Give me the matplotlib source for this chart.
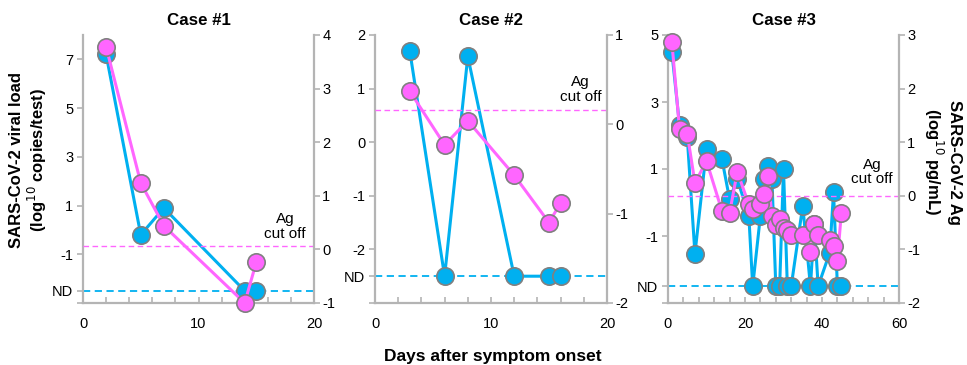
import matplotlib
matplotlib.use('Agg')
import matplotlib.pyplot as plt
from matplotlib.ticker import MultipleLocator, FixedLocator

plt.rcParams['font.family'] = ['Liberation Sans', 'DejaVu Sans']
plt.rcParams['axes.unicode_minus'] = False

ND = -2.5
titles = ['Case #1', 'Case #2', 'Case #3']

days1 = [2, 5, 7, 14, 15]
rna1 = [7.2, -0.2, 0.9, ND, ND]
ag1 = [3.78, 1.24, 0.44, -1.0, -0.24]

days2 = [3, 6, 8, 12, 15, 16]
rna2 = [1.7, ND, 1.6, ND, ND, ND]
ag2 = [0.37, -0.23, 0.04, -0.57, -1.1, -0.88]

days3 = [1, 3, 5, 7, 10, 14, 16, 18, 21, 22, 24, 25, 26, 27, 28, 29, 30, 31, 32,
         35, 37, 38, 39, 42, 43, 44, 45]
rna3 = [4.5, 2.3, 1.95, -1.53, 1.6, 1.3, 0.1, 0.7, -0.4, ND, -0.4, 0.7, 1.1, 0.7,
        ND, ND, 1.0, ND, ND, -0.1, ND, -0.65, ND, -1.5, 0.3, ND, ND]
ag3 = [2.87, 1.24, 1.16, 0.24, 0.65, -0.28, -0.32, 0.45, -0.16, -0.25, -0.15, 0.04,
       0.37, -0.38, -0.55, -0.43, -0.61, -0.64, -0.74, -0.74, -1.05, -0.52, -0.74,
       -0.82, -0.93, -1.22, -0.33]

cutoffs = [0.06, 0.16, 0.0]

left_ticks = [[-3, ND, -1, 1, 3, 5, 7], [-3, ND, -2, -1, 0, 1, 2], [-3, ND, -1, 1, 3, 5]]
left_labels = [['', 'ND', '-1', '1', '3', '5', '7'],
               ['', 'ND', '-2', '-1', '0', '1', '2'],
               ['', 'ND', '-1', '1', '3', '5']]
right_ticks = [[-1, 0, 1, 2, 3, 4], [-2, -1, 0, 1], [-2, -1, 0, 1, 2, 3]]
x_ticks = [[0, 10, 20], [0, 10, 20], [0, 20, 40, 60]]

data = [(days1, rna1, ag1), (days2, rna2, ag2), (days3, rna3, ag3)]
left_lims = [(-3, 8), (-3, 2), (-3, 5)]
right_lims = [(-1, 4), (-2, 1), (-2, 3)]
x_lims = [(0, 20), (0, 20), (0, 60)]
x_minor = [2, 2, 4]
text_pos = [(17.5, 0.43), (17.7, 0.39), (53, 0.44)]

BLUE = '#00b0f0'
PINK = '#ff66ff'
SPINE = '#b4b4b4'
EDGE = '#808080'

W, H = 967, 365
fig = plt.figure(figsize=(W / 100, H / 100), dpi=100)
lefts = [83, 375, 668]
widths = [231, 232, 231]
top, bottom = 35, 303

for i in range(3):
    ax = fig.add_axes([lefts[i] / W, (H - bottom) / H, widths[i] / W, (bottom - top) / H])
    ax2 = ax.twinx()
    d, r, a = data[i]
    ax.set_xlim(*x_lims[i])
    ax.set_ylim(*left_lims[i])
    ax2.set_ylim(*right_lims[i])

    ax.axhline(ND, color=BLUE, lw=1.3, ls=(0, (4, 2.5)), zorder=1)
    ax2.axhline(cutoffs[i], color=PINK, lw=1.0, ls=(0, (4, 2.5)), zorder=1)

    ax.plot(d, r, '-o', color=BLUE, lw=2.2, ms=12.5, mfc=BLUE, mec=EDGE, mew=1.2,
            zorder=3, clip_on=False)
    ax2.plot(d, a, '-o', color=PINK, lw=2.2, ms=12.5, mfc=PINK, mec=EDGE, mew=1.2,
             zorder=3, clip_on=False)

    ax2.text(text_pos[i][0], text_pos[i][1], 'Ag\ncut off', ha='center', va='center',
             multialignment='center', fontsize=11, linespacing=1.05)

    for a_ in (ax, ax2):
        a_.spines['top'].set_visible(False)
        for s in ('left', 'right', 'bottom'):
            a_.spines[s].set_color(SPINE)
            a_.spines[s].set_linewidth(1.6)
    ax.spines['right'].set_visible(False)
    ax2.spines['left'].set_visible(False)
    ax2.spines['bottom'].set_visible(False)

    ax.yaxis.set_major_locator(FixedLocator(left_ticks[i]))
    ax.set_yticklabels(left_labels[i])
    ax2.yaxis.set_major_locator(FixedLocator(right_ticks[i]))
    ax2.set_yticklabels([str(t) for t in right_ticks[i]])
    ax.set_xticks(x_ticks[i])
    ax.xaxis.set_minor_locator(MultipleLocator(x_minor[i]))

    ax.tick_params(axis='y', direction='out', length=4, width=1.2, color=SPINE,
                   labelsize=10.5, pad=3)
    ax2.tick_params(axis='y', direction='out', length=4, width=1.2, color=SPINE,
                    labelsize=10.5, pad=2)
    ax.tick_params(axis='x', which='both', direction='in', length=4, width=1.2,
                   color=SPINE, labelsize=10.5, pad=10)

    ax.set_title(titles[i], fontsize=12.2, fontweight='bold', pad=7)

fig.text(29 / W, (H - 160) / H,
         'SARS-CoV-2 viral load\n(log$^{10}$ copies/test)', rotation=90,
         ha='center', va='center', multialignment='center', fontsize=12,
         fontweight='bold', linespacing=1.1)
fig.text(942 / W, (H - 162) / H, 'SARS-CoV-2 Ag\n(log$^{10}$ pg/mL)', rotation=270,
         ha='center', va='center', multialignment='center', fontsize=12,
         fontweight='bold', linespacing=1.1)
fig.text(493 / W, (H - 361) / H, 'Days after symptom onset', ha='center',
         va='baseline', fontsize=12.5, fontweight='bold')

fig.savefig('out.png', dpi=100)
